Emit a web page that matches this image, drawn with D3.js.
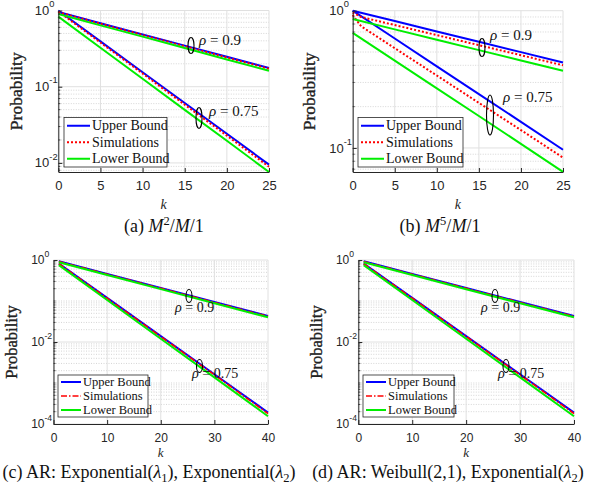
<!DOCTYPE html>
<html>
<head>
<meta charset="utf-8">
<script src="https://cdn.jsdelivr.net/npm/d3@7"></script>
<style>
  body { margin: 0; background: #fff; }
  svg { display: block; }
</style>
</head>
<body>
<script>
//============================================================
// Data (k values and probabilities)
var kAB = [0, 5, 10, 15, 20, 25];
var kAB_sim = [0, 1, 5, 10, 15, 20, 25];
var kCD = [1, 10, 20, 30, 40];

// (a) M^2/M/1
var a_up90  = [0.96, 0.679, 0.484, 0.346, 0.247, 0.176];
var a_sim90 = [0.95, 0.672, 0.478, 0.340, 0.242, 0.172];
var a_lo90  = [0.90, 0.638, 0.454, 0.322, 0.228, 0.162];
var a_up75  = [1.00, 0.394, 0.155, 0.061, 0.0241, 0.0095];
var a_sim75 = [0.97, 0.380, 0.149, 0.0581, 0.0228, 0.0089];
var a_lo75  = [0.83, 0.325, 0.127, 0.0497, 0.0195, 0.0076];

// (b) M^5/M/1
var b_up90  = [1.00, 0.841, 0.706, 0.594, 0.499, 0.42];
var b_sim90 = [0.97, 0.90, 0.786, 0.664, 0.561, 0.474, 0.40];
var b_lo90  = [0.87, 0.731, 0.614, 0.516, 0.434, 0.365];
var b_up75  = [1.00, 0.627, 0.393, 0.247, 0.155, 0.097];
var b_sim75 = [0.93, 0.77, 0.533, 0.337, 0.213, 0.135, 0.085];
var b_lo75  = [0.69, 0.433, 0.272, 0.171, 0.107, 0.067];

// (c) AR: Exponential, Exponential
var c_up90  = [0.93, 0.458, 0.208, 0.0946, 0.043];
var c_sim90 = [0.92, 0.450, 0.204, 0.0925, 0.042];
var c_lo90  = [0.88, 0.431, 0.195, 0.0883, 0.040];
var c_up75  = [0.82, 0.119, 0.0139, 0.00163, 0.00019];
var c_sim75 = [0.81, 0.117, 0.0136, 0.00158, 0.00018];
var c_lo75  = [0.75, 0.106, 0.0120, 0.00137, 0.000155];

// (d) AR: Weibull, Exponential
var d_up90  = [0.93, 0.456, 0.207, 0.0944, 0.043];
var d_sim90 = [0.92, 0.449, 0.203, 0.0923, 0.042];
var d_lo90  = [0.88, 0.430, 0.194, 0.0880, 0.040];
var d_up75  = [0.82, 0.119, 0.0139, 0.00163, 0.00019];
var d_sim75 = [0.81, 0.117, 0.0136, 0.00158, 0.00018];
var d_lo75  = [0.75, 0.106, 0.0120, 0.00137, 0.000155];

var legendNames = ["Upper Bound", "Simulations", "Lower Bound"];
var xTicksAB = [0, 5, 10, 15, 20, 25];
var xTicksCD = [0, 10, 20, 30, 40];

//============================================================
var svg = d3.select("body").append("svg")
  .attr("width", 592).attr("height", 492)
  .style("font-family", "'Liberation Sans', Arial, sans-serif");

var BLUE = "#0000ff", RED = "#ff0000", GREEN = "#00ee00";
var SERIF = "'Liberation Serif', 'Times New Roman', serif";

function exponent(v) { return Math.round(Math.log10(v)); }

function drawPanel(p) {
  var x = d3.scaleLinear().domain(p.xDomain).range([p.left, p.right]);
  var y = d3.scaleLog().domain(p.yDomain).range([p.bottom, p.top]);
  var g = svg.append("g");

  // minor grid (log)
  var lo = Math.floor(Math.log10(p.yDomain[0]));
  var minor = [];
  for (var e = lo; e < 0; e++) {
    for (var m = 1; m < 10; m++) {
      var v = m * Math.pow(10, e);
      if (v >= p.yDomain[0] && v <= 1 &&
          !p.yTicks.some(function (t) { return Math.abs(t - v) / v < 1e-9; })) minor.push(v);
    }
  }
  g.selectAll(".mg").data(minor).enter().append("line")
    .attr("x1", p.left).attr("x2", p.right)
    .attr("y1", function (d) { return y(d); }).attr("y2", function (d) { return y(d); })
    .attr("stroke", "#c4c4c4").attr("stroke-width", 0.7)
    .attr("stroke-dasharray", "1,1.5");

  // major grid
  g.selectAll(".yg").data(p.yTicks).enter().append("line")
    .attr("x1", p.left).attr("x2", p.right)
    .attr("y1", function (d) { return y(d); }).attr("y2", function (d) { return y(d); })
    .attr("stroke", "#e0e0e0").attr("stroke-width", 1);
  g.selectAll(".xg").data(p.xTicks).enter().append("line")
    .attr("x1", function (d) { return x(d); }).attr("x2", function (d) { return x(d); })
    .attr("y1", p.top).attr("y2", p.bottom)
    .attr("stroke", "#e0e0e0").attr("stroke-width", 1);

  // curves
  var line = d3.line()
    .x(function (d) { return x(d[0]); })
    .y(function (d) { return y(d[1]); });
  p.series.forEach(function (s) {
    g.append("path")
      .datum(d3.zip(s.k, s.v))
      .attr("d", line)
      .attr("fill", "none")
      .attr("stroke", s.color)
      .attr("stroke-width", s.width)
      .attr("stroke-dasharray", s.dash || null);
  });

  // axes (ticks inward, MATLAB style)
  var xAxis = d3.axisBottom(x).tickValues(p.xTicks).tickSizeInner(-4).tickSizeOuter(0).tickPadding(9);
  var gx = g.append("g").attr("transform", "translate(0," + p.bottom + ")").call(xAxis);
  gx.selectAll("text").attr("font-size", p.tickFont).attr("fill", "#262626")
    .attr("font-family", "'Liberation Sans', Arial, sans-serif");
  gx.select(".domain").attr("stroke", "#262626");
  gx.selectAll(".tick line").attr("stroke", "#262626");

  var yAxis = d3.axisLeft(y).tickValues(p.yTicks).tickSizeInner(-4).tickSizeOuter(0).tickFormat("");
  var gy = g.append("g").attr("transform", "translate(" + p.left + ",0)").call(yAxis);
  gy.select(".domain").attr("stroke", "#262626");
  gy.selectAll(".tick line").attr("stroke", "#262626");
  gy.selectAll(".mt").data(minor).enter().append("line")
    .attr("x1", 0).attr("x2", 2)
    .attr("y1", function (d) { return y(d); }).attr("y2", function (d) { return y(d); })
    .attr("stroke", "#262626").attr("stroke-width", 0.8);

  // y tick labels 10^n
  p.yTicks.forEach(function (t) {
    g.append("text")
      .attr("x", p.left - 3 - p.supW).attr("y", y(t) + p.tickFont * 0.35)
      .attr("text-anchor", "end").attr("font-size", p.tickFont).attr("fill", "#262626")
      .text("10");
    g.append("text")
      .attr("x", p.left - 3 - p.supW).attr("y", y(t) - p.tickFont * 0.25)
      .attr("font-size", p.tickFont * 0.72).attr("fill", "#262626")
      .text(String(exponent(t)));
  });

  // axis labels
  g.append("text")
    .attr("transform", "translate(" + p.yLabelX + "," + ((p.top + p.bottom) / 2) + ") rotate(-90)")
    .attr("text-anchor", "middle").attr("font-family", SERIF)
    .attr("font-size", p.yLabelFont).attr("fill", "#222")
    .attr("stroke", "#222").attr("stroke-width", 0.35)
    .text("Probability");
  g.append("text")
    .attr("x", (p.left + p.right) / 2).attr("y", p.kY)
    .attr("text-anchor", "middle").attr("font-family", SERIF).attr("font-style", "italic")
    .attr("font-size", p.tickFont + 1).attr("fill", "#262626")
    .text("k");

  // rho annotations
  p.notes.forEach(function (n) {
    g.append("ellipse")
      .attr("cx", n.cx).attr("cy", n.cy).attr("rx", n.rx).attr("ry", n.ry)
      .attr("fill", "none").attr("stroke", "#000").attr("stroke-width", 1.1);
    var t = g.append("text").attr("x", n.tx).attr("y", n.ty)
      .attr("font-family", SERIF).attr("font-size", p.noteFont).attr("fill", "#111");
    t.append("tspan").attr("font-style", "italic").text("\u03c1");
    t.append("tspan").text(" = " + n.label);
  });

  // legend
  var L = p.legend;
  var lg = g.append("g");
  lg.append("rect")
    .attr("x", L.x).attr("y", L.y).attr("width", L.w).attr("height", L.h)
    .attr("fill", "#fff").attr("stroke", "#262626").attr("stroke-width", 0.8);
  legendNames.forEach(function (name, i) {
    var s = p.series[i * 2];
    var yy = L.y + L.h * (i + 0.5) / 3;
    lg.append("line")
      .attr("x1", L.x + 3).attr("x2", L.x + 3 + L.sample)
      .attr("y1", yy).attr("y2", yy)
      .attr("stroke", s.color).attr("stroke-width", s.width)
      .attr("stroke-dasharray", s.dash || null);
    lg.append("text")
      .attr("x", L.x + 5 + L.sample).attr("y", yy + L.font * 0.33)
      .attr("font-family", SERIF).attr("font-size", L.font).attr("fill", "#111")
      .text(name);
  });
}

function seriesSet(kU, kS, up90, sim90, lo90, up75, sim75, lo75, w, dash, simW) {
  // order: upper, upper, sim, sim, lower, lower (legend uses every other one)
  return [
    { k: kU, v: up90, color: BLUE, width: w },
    { k: kU, v: up75, color: BLUE, width: w },
    { k: kS, v: sim90, color: RED, width: simW, dash: dash },
    { k: kS, v: sim75, color: RED, width: simW, dash: dash },
    { k: kU, v: lo90, color: GREEN, width: w },
    { k: kU, v: lo75, color: GREEN, width: w }
  ];
}

var panels = [
  {
    left: 58.3, right: 269, top: 10.5, bottom: 172,
    xDomain: [0, 25], yDomain: [0.0076, 1], xTicks: xTicksAB, yTicks: [1, 0.1, 0.01],
    series: seriesSet(kAB, kAB, a_up90, a_sim90, a_lo90, a_up75, a_sim75, a_lo75, 2, "2,2", 2),
    tickFont: 13, supW: 6, yLabelX: 22, yLabelFont: 17.5, noteFont: 15, kY: 209,
    notes: [
      { cx: 191, cy: 45.5, rx: 3, ry: 8, tx: 199, ty: 45, label: "0.9" },
      { cx: 199, cy: 118, rx: 3, ry: 10.5, tx: 209, ty: 116, label: "0.75" }
    ],
    legend: { x: 64, y: 117.5, w: 103, h: 49.5, sample: 23, font: 14 }
  },
  {
    left: 352.7, right: 563, top: 10.7, bottom: 172,
    xDomain: [0, 25], yDomain: [0.0668, 1], xTicks: xTicksAB, yTicks: [1, 0.1],
    series: seriesSet(kAB, kAB_sim, b_up90, b_sim90, b_lo90, b_up75, b_sim75, b_lo75, 2, "2,2", 2),
    tickFont: 13, supW: 6, yLabelX: 315, yLabelFont: 17.5, noteFont: 15, kY: 209,
    notes: [
      { cx: 482, cy: 47.5, rx: 3, ry: 9, tx: 490, ty: 40, label: "0.9" },
      { cx: 490, cy: 115, rx: 3.5, ry: 20, tx: 503, ty: 102, label: "0.75" }
    ],
    legend: { x: 358, y: 117.5, w: 105, h: 49.5, sample: 23, font: 14 }
  },
  {
    left: 53.5, right: 268, top: 260, bottom: 424,
    xDomain: [0, 40], yDomain: [1e-4, 1], xTicks: xTicksCD, yTicks: [1, 0.01, 1e-4],
    series: seriesSet(kCD, kCD, c_up90, c_sim90, c_lo90, c_up75, c_sim75, c_lo75, 2, "6,2,1.5,2", 1.6),
    tickFont: 12, supW: 6, yLabelX: 17, yLabelFont: 16.5, noteFont: 14, kY: 457,
    notes: [
      { cx: 189, cy: 296, rx: 3, ry: 6.5, tx: 175, ty: 312, label: "0.9" },
      { cx: 199.5, cy: 366, rx: 3, ry: 6.5, tx: 192, ty: 378, label: "0.75" }
    ],
    legend: { x: 58, y: 375, w: 90, h: 42, sample: 20, font: 12.5 }
  },
  {
    left: 358.3, right: 574, top: 260, bottom: 424,
    xDomain: [0, 40], yDomain: [1e-4, 1], xTicks: xTicksCD, yTicks: [1, 0.01, 1e-4],
    series: seriesSet(kCD, kCD, d_up90, d_sim90, d_lo90, d_up75, d_sim75, d_lo75, 2, "6,2,1.5,2", 1.6),
    tickFont: 12, supW: 6, yLabelX: 322, yLabelFont: 16.5, noteFont: 14, kY: 457,
    notes: [
      { cx: 495, cy: 296, rx: 3, ry: 6.5, tx: 481, ty: 312, label: "0.9" },
      { cx: 506, cy: 366, rx: 3, ry: 6.5, tx: 498, ty: 378, label: "0.75" }
    ],
    legend: { x: 363, y: 375, w: 91, h: 42, sample: 20, font: 12.5 }
  }
];

panels.forEach(drawPanel);

//============================================================
// Sub-captions
function caption(cx, cy, parts) {
  var t = svg.append("text").attr("x", cx).attr("y", cy).attr("text-anchor", "middle")
    .attr("font-family", SERIF).attr("font-size", 18).attr("fill", "#111");
  parts.forEach(function (p) {
    var s = t.append("tspan").text(p.t);
    if (p.i) s.attr("font-style", "italic");
    if (p.sup) s.attr("dy", -7).attr("font-size", 12.5);
    if (p.sub) s.attr("dy", 4).attr("font-size", 12.5);
    if (p.back) s.attr("dy", p.back);
  });
}
caption(164, 232, [{ t: "(a) " }, { t: "M", i: 1 }, { t: "2", sup: 1 }, { t: "/", back: 7 }, { t: "M", i: 1 }, { t: "/1" }]);
caption(440, 232, [{ t: "(b) " }, { t: "M", i: 1 }, { t: "5", sup: 1 }, { t: "/", back: 7 }, { t: "M", i: 1 }, { t: "/1" }]);
caption(149, 478, [{ t: "(c) AR: Exponential(" }, { t: "\u03bb", i: 1 }, { t: "1", sub: 1 }, { t: "), Exponential(", back: -4 }, { t: "\u03bb", i: 1 }, { t: "2", sub: 1 }, { t: ")", back: -4 }]);
caption(448, 478, [{ t: "(d) AR: Weibull(2,1), Exponential(" }, { t: "\u03bb", i: 1 }, { t: "2", sub: 1 }, { t: ")", back: -4 }]);
</script>
</body>
</html>
